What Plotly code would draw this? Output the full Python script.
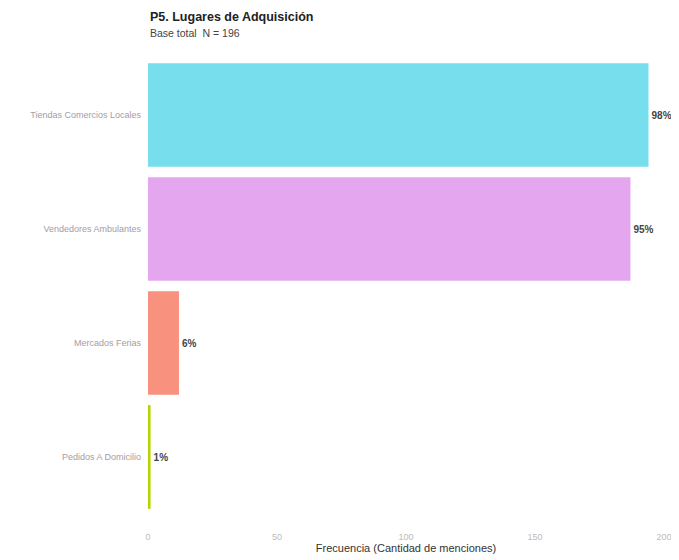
import plotly.graph_objects as go

categories = ["Tiendas Comercios Locales", "Vendedores Ambulantes", "Mercados Ferias", "Pedidos A Domicilio"]
values = [194, 187, 12, 1]
pct_labels = ["98%", "95%", "6%", "1%"]
colors = ["#76DEED", "#E4A7EF", "#F8917D", "#B6D400"]
x_ticks = [0, 50, 100, 150, 200]

fig = go.Figure()
fig.add_trace(go.Bar(
    y=categories, x=values, orientation="h",
    marker=dict(color=colors, line=dict(width=0)),
    text=pct_labels, textposition="outside", cliponaxis=False,
    constraintext="none",
    textfont=dict(family="Liberation Sans, Arial, sans-serif", size=10, color="#444444"),
    texttemplate="<b>%{text}</b>",
))

# page body has an 8px default margin; size the figure to fit inside the window
fig.update_layout(
    width=671, height=552,
    margin=dict(l=140, r=15, t=50, b=46, autoexpand=False),
    paper_bgcolor="white", plot_bgcolor="white",
    bargap=0.09,
    showlegend=False,
    font=dict(family="Liberation Sans, Arial, sans-serif"),
    xaxis=dict(
        range=[0, 200], tickvals=x_ticks, showgrid=False, zeroline=False,
        showline=False, ticks="", automargin=False,
        ticklabelstandoff=16,
        tickfont=dict(size=9, color="#BBBBBB"),
        title=dict(text="Frecuencia (Cantidad de menciones)", font=dict(size=11, color="#333333"), standoff=2),
    ),
    yaxis=dict(
        categoryorder="array", categoryarray=categories[::-1],
        showgrid=False, zeroline=False, showline=False, ticks="", automargin=False,
        ticklabelstandoff=6,
        tickfont=dict(size=9, color="#A89AA4"),
    ),
)
fig.add_annotation(text="<b>P5. Lugares de Adquisición</b>", xref="paper", yref="paper",
                   x=0, y=1, yshift=41, xanchor="left", yanchor="middle", showarrow=False,
                   font=dict(size=12.5, color="#222222"))
fig.add_annotation(text="Base total  N = 196", xref="paper", yref="paper",
                   x=0, y=1, yshift=25, xanchor="left", yanchor="middle", showarrow=False,
                   font=dict(size=10.5, color="#444444"))

fig.write_html("out.html")
